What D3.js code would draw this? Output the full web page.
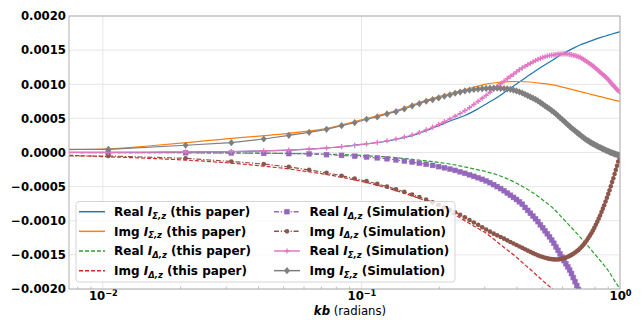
<!DOCTYPE html>
<html><head><meta charset="utf-8">
<script src="https://cdn.jsdelivr.net/npm/d3@7"></script>
<style>
body{margin:0;background:#fff}
svg{display:block}
text{font-family:"DejaVu Sans",sans-serif}
</style>
</head><body>
<svg id="c" width="643" height="320"></svg>
<script>
// ---------------- DATA (values in units of 1e-4) ----------------
const VALUE_UNIT = 1e-4;

// theory ("this paper") curves
const kbTheory = [0.0074,0.01,0.015,0.02,0.03,0.04,0.05,0.06,0.07,0.08,0.1,0.12,0.14,0.16,0.18,0.2,0.22,0.25,0.28,0.3,0.33,0.36,0.4,0.43,0.46,0.5,0.55,0.6,0.65,0.7,0.75,0.8,0.85,0.9,0.95,1.0];
const realSigmaPaper = [0.01,0.02,0.04,0.06,0.13,0.22,0.32,0.45,0.60,0.77,1.18,1.54,2.01,2.57,3.26,3.96,4.62,5.38,6.32,6.99,7.92,8.89,10.10,10.93,11.70,12.60,13.56,14.46,15.15,15.75,16.17,16.57,16.91,17.19,17.45,17.70];
const imgSigmaPaper  = [0.43,0.51,0.95,1.36,2.01,2.39,2.72,3.05,3.38,3.85,4.80,5.55,6.28,7.05,7.71,8.21,8.65,9.19,9.68,9.97,10.22,10.35,10.40,10.37,10.29,10.13,9.91,9.57,9.25,8.93,8.64,8.37,8.15,7.89,7.67,7.48];
const realDeltaPaper = [0,-0.01,-0.02,-0.03,-0.06,-0.09,-0.13,-0.18,-0.22,-0.28,-0.43,-0.60,-0.81,-1.03,-1.25,-1.47,-1.69,-2.10,-2.51,-2.76,-3.19,-3.72,-4.55,-5.21,-5.88,-6.88,-8.14,-9.63,-11.03,-12.35,-13.64,-14.91,-16.11,-17.29,-18.70,-20.00];
const imgDeltaPaper  = [-0.41,-0.60,-0.85,-1.07,-1.50,-1.92,-2.32,-2.72,-3.10,-3.48,-4.23,-4.98,-5.73,-6.46,-7.18,-8.00,-8.75,-9.95,-11.05,-11.70,-12.90,-14.05,-15.42,-16.50,-17.45,-18.70,-20.05,-21.30,null,null,null,null,null,null,null,null];

// simulation samples
const kbSim = [0.0105,0.0209,0.0314,0.0419,0.0524,0.0628,0.0733,0.0838,0.0942,0.1047,
0.1152,0.1256,0.1361,0.1466,0.1571,0.1675,0.1780,0.1885,0.1989,0.2094,
0.2199,0.2303,0.2408,0.2513,0.2618,0.2722,0.2827,0.2932,0.3036,0.3141,
0.3246,0.3350,0.3455,0.3560,0.3665,0.3769,0.3874,0.3979,0.4083,0.4188,
0.4293,0.4397,0.4502,0.4607,0.4712,0.4816,0.4921,0.5026,0.5130,0.5235,
0.5340,0.5444,0.5549,0.5654,0.5759,0.5863,0.5968,0.6073,0.6177,0.6282,
0.6387,0.6491,0.6596,0.6701,0.6806,0.6910,0.7015,0.7120,0.7224,0.7329,
0.7434,0.7538,0.7643,0.7748,0.7853,0.7957,0.8062,0.8167,0.8271,0.8376,
0.8481,0.8585,0.8690,0.8795,0.8900,0.9004,0.9109,0.9214,0.9318,0.9423,
0.9528,0.9632,0.9737,0.9842,0.9947];
const realDeltaSim = [-0.01,-0.04,-0.07,-0.12,-0.16,-0.21,-0.32,-0.42,-0.54,-0.67,
-0.79,-0.92,-1.09,-1.25,-1.41,-1.57,-1.72,-1.89,-2.07,-2.24,
-2.43,-2.62,-2.83,-3.05,-3.27,-3.49,-3.70,-3.93,-4.17,-4.42,
-4.71,-5.00,-5.29,-5.60,-5.94,-6.26,-6.58,-6.88,-7.22,-7.58,
-8.05,-8.48,-8.90,-9.31,-9.71,-10.13,-10.59,-11.03,-11.48,-11.92,
-12.36,-12.82,-13.30,-13.83,-14.33,-14.85,-15.32,-15.84,-16.30,-16.75,
-17.22,-17.74,-18.33,-18.92,-19.50,-20.09,-20.68];
const imgDeltaSim = [-0.51,-0.85,-1.32,-1.69,-2.10,-2.55,-2.98,-3.40,-3.80,-4.20,
-4.60,-5.00,-5.38,-5.77,-6.15,-6.53,-6.91,-7.28,-7.66,-8.03,
-8.40,-8.76,-9.12,-9.50,-9.88,-10.25,-10.60,-10.95,-11.28,-11.60,
-11.89,-12.14,-12.39,-12.62,-12.87,-13.11,-13.33,-13.55,-13.77,-13.97,
-14.18,-14.37,-14.56,-14.74,-14.91,-15.07,-15.21,-15.32,-15.43,-15.51,
-15.59,-15.63,-15.66,-15.67,-15.66,-15.63,-15.57,-15.48,-15.40,-15.28,
-15.15,-15.00,-14.84,-14.66,-14.47,-14.27,-14.03,-13.78,-13.50,-13.21,
-12.89,-12.54,-12.18,-11.83,-11.44,-11.04,-10.60,-10.15,-9.69,-9.22,
-8.72,-8.23,-7.73,-7.17,-6.64,-6.09,-5.53,-4.94,-4.34,-3.77,
-3.15,-2.55,-1.94,-1.32,-0.72];
const realSigmaSim = [0.03,0.07,0.14,0.24,0.36,0.50,0.66,0.85,1.05,1.25,
1.47,1.72,1.98,2.27,2.57,2.93,3.31,3.71,4.12,4.52,
4.91,5.31,5.70,6.13,6.57,7.04,7.49,7.95,8.37,8.83,
9.27,9.68,10.07,10.45,10.82,11.17,11.49,11.80,12.14,12.39,
12.64,12.86,13.08,13.28,13.48,13.64,13.78,13.92,14.03,14.14,
14.21,14.27,14.31,14.36,14.40,14.43,14.44,14.44,14.44,14.43,
14.38,14.33,14.25,14.18,14.11,14.03,13.93,13.80,13.65,13.49,
13.33,13.17,13.01,12.86,12.68,12.51,12.33,12.14,11.95,11.77,
11.60,11.41,11.25,11.07,10.88,10.67,10.47,10.25,10.03,9.82,
9.62,9.43,9.24,9.05,8.87];
const imgSigmaSim = [0.47,1.06,1.44,1.98,2.52,2.96,3.40,3.93,4.37,4.87,
5.21,5.65,5.98,6.38,6.82,7.16,7.51,7.74,7.99,8.24,
8.43,8.68,8.86,9.02,9.14,9.23,9.30,9.35,9.39,9.42,
9.43,9.43,9.41,9.38,9.33,9.24,9.15,9.02,8.87,8.72,
8.53,8.34,8.15,7.96,7.77,7.55,7.32,7.08,6.83,6.61,
6.38,6.14,5.91,5.65,5.38,5.10,4.85,4.59,4.34,4.08,
3.84,3.59,3.37,3.17,2.96,2.77,2.57,2.36,2.18,2.01,
1.83,1.69,1.55,1.42,1.29,1.17,1.06,0.94,0.84,0.73,
0.63,0.54,0.44,0.35,0.26,0.18,0.09,0.01,-0.06,-0.13,
-0.19,-0.25,-0.31,-0.37,-0.43];

const yTicks = [-0.002,-0.0015,-0.001,-0.0005,0,0.0005,0.001,0.0015,0.002];
const xTicks = [0.01,0.1,1];
const xTickExponents = ["\u22122","\u22121","0"];
const xMinorTicks = [0.008,0.009,0.02,0.03,0.04,0.05,0.06,0.07,0.08,0.09,0.2,0.3,0.4,0.5,0.6,0.7,0.8,0.9];

// ---------------- CHART ----------------
const X0=69, X1=620, Y0=16, Y1=289;
const svg = d3.select("#c");
const x = d3.scaleLog().domain([0.0074,1]).range([X0,X1]);
const y = d3.scaleLinear().domain([-0.002,0.002]).range([Y1,Y0]);

svg.append("defs").append("clipPath").attr("id","plotclip")
  .append("rect").attr("x",X0).attr("y",Y0).attr("width",X1-X0).attr("height",Y1-Y0);

// grid
const grid = svg.append("g");
grid.selectAll(".gy").data(yTicks).join("line")
  .attr("x1",X0).attr("x2",X1).attr("y1",d=>y(d)).attr("y2",d=>y(d))
  .attr("stroke","#e6e6e6").attr("stroke-width",1);
grid.selectAll(".gx").data(xTicks).join("line")
  .attr("x1",d=>x(d)).attr("x2",d=>x(d)).attr("y1",Y0).attr("y2",Y1)
  .attr("stroke","#e6e6e6").attr("stroke-width",1);

// minor ticks (inward)
svg.append("g").selectAll("line").data(xMinorTicks).join("line")
  .attr("x1",d=>x(d)).attr("x2",d=>x(d)).attr("y1",Y1).attr("y2",Y1-2.5)
  .attr("stroke","#b0b0b0").attr("stroke-width",0.8);

// axes
const yAxis = svg.append("g").attr("transform",`translate(${X0},0)`)
  .call(d3.axisLeft(y).tickValues(yTicks).tickSize(0).tickPadding(3).tickFormat(d3.format(".4f")));
yAxis.select(".domain").remove();
yAxis.selectAll("text").attr("font-size",11.7).attr("font-weight","bold").attr("fill","#000")
  .attr("font-family","DejaVu Sans");

const xAxis = svg.append("g").attr("transform",`translate(0,${Y1})`)
  .call(d3.axisBottom(x).tickValues(xTicks).tickSize(0).tickFormat(()=>""));
xAxis.select(".domain").remove();
xAxis.selectAll(".tick").each(function(d,i){
  const t = d3.select(this).append("text").attr("y",11).attr("text-anchor","middle")
    .attr("font-size",11.7).attr("font-weight","bold").attr("fill","#000").attr("font-family","DejaVu Sans");
  t.append("tspan").text("10");
  t.append("tspan").attr("font-size",8.2).attr("dy",-4.5).text(xTickExponents[i]);
});
xAxis.selectAll(".tick text").attr("dy",null);

// axis label
const xl = svg.append("text").attr("x",350).attr("y",315).attr("text-anchor","middle")
  .attr("font-size",11.7).attr("fill","#000");
xl.append("tspan").attr("font-weight","bold").attr("font-style","italic").text("kb");
xl.append("tspan").text(" (radians)");

// ---------------- SERIES ----------------
const plot = svg.append("g").attr("clip-path","url(#plotclip)");
const line = d3.line().defined(d=>d.v!==null).x(d=>x(d.k)).y(d=>y(d.v*VALUE_UNIT)).curve(d3.curveMonotoneX);

const theory = [
  {vals:realSigmaPaper, color:"#1f77b4", dash:null},
  {vals:imgSigmaPaper,  color:"#ff7f0e", dash:null},
  {vals:realDeltaPaper, color:"#2ca02c", dash:"4,2"},
  {vals:imgDeltaPaper,  color:"#d62728", dash:"4,2"},
];
theory.forEach(s=>{
  const data = kbTheory.map((k,i)=>({k, v:s.vals[i]}));
  plot.append("path").datum(data).attr("d",line).attr("fill","none")
    .attr("stroke",s.color).attr("stroke-width",1.2).attr("stroke-dasharray",s.dash);
});

function drawMarker(g, type, color, cx, cy){
  if(type==="square"){
    g.append("rect").attr("x",cx-2.5).attr("y",cy-2.5).attr("width",5).attr("height",5)
      .attr("fill",color).attr("stroke",color).attr("stroke-opacity",0.5).attr("stroke-width",0.6);
  } else if(type==="circle"){
    g.append("circle").attr("cx",cx).attr("cy",cy).attr("r",2.3).attr("fill",color);
  } else if(type==="plus"){
    g.append("path").attr("d",`M${cx-2.6},${cy}H${cx+2.6}M${cx},${cy-2.6}V${cy+2.6}`)
      .attr("stroke",color).attr("stroke-width",1.3).attr("fill","none");
  } else if(type==="diamond"){
    g.append("path").attr("d",`M${cx},${cy-3.6}L${cx+3},${cy}L${cx},${cy+3.6}L${cx-3},${cy}Z`)
      .attr("fill",color);
  }
}

const sims = [
  {vals:realDeltaSim, color:"#9467bd", dash:"5,1.8,1.2,1.8", marker:"square"},
  {vals:imgDeltaSim,  color:"#8c564b", dash:"5,1.8,1.2,1.8", marker:"circle"},
  {vals:realSigmaSim, color:"#e377c2", dash:null, marker:"plus"},
  {vals:imgSigmaSim,  color:"#7f7f7f", dash:null, marker:"diamond"},
];
sims.forEach(s=>{
  const pts = s.vals.map((v,i)=>({k:kbSim[i], v}));
  const data = [{k:x.domain()[0], v:s.vals[0]}].concat(pts);
  plot.append("path").datum(data).attr("d",line.curve(d3.curveLinear)).attr("fill","none")
    .attr("stroke",s.color).attr("stroke-width",1.2).attr("stroke-dasharray",s.dash);
  const mg = plot.append("g");
  pts.forEach(p=>drawMarker(mg, s.marker, s.color, x(p.k), y(p.v*VALUE_UNIT)));
});

// ---------------- LEGEND ----------------
const leg = svg.append("g");
leg.append("rect").attr("x",76).attr("y",201.5).attr("width",379).attr("height",80.5).attr("rx",3)
  .attr("fill","#fff").attr("fill-opacity",0.8).attr("stroke","#d0d0d0").attr("stroke-width",0.9);

const legendItems = [
  {pre:"Real ", sub:"\u03a3,z", post:" (this paper)", color:"#1f77b4", dash:null, marker:null},
  {pre:"Img ",  sub:"\u03a3,z", post:" (this paper)", color:"#ff7f0e", dash:null, marker:null},
  {pre:"Real ", sub:"\u0394,z", post:" (this paper)", color:"#2ca02c", dash:"4,2", marker:null},
  {pre:"Img ",  sub:"\u0394,z", post:" (this paper)", color:"#d62728", dash:"4,2", marker:null},
  {pre:"Real ", sub:"\u0394,z", post:" (Simulation)", color:"#9467bd", dash:"5,1.8,1.2,1.8", marker:"square"},
  {pre:"Img ",  sub:"\u0394,z", post:" (Simulation)", color:"#8c564b", dash:"5,1.8,1.2,1.8", marker:"circle"},
  {pre:"Real ", sub:"\u03a3,z", post:" (Simulation)", color:"#e377c2", dash:null, marker:"plus"},
  {pre:"Img ",  sub:"\u03a3,z", post:" (Simulation)", color:"#7f7f7f", dash:null, marker:"diamond"},
];
legendItems.forEach((it,i)=>{
  const col = Math.floor(i/4), row = i%4;
  const hx = col===0 ? 79 : 274, tx = col===0 ? 114 : 309.5;
  const cy = 211.7 + row*19.65;
  leg.append("line").attr("x1",hx).attr("x2",hx+26).attr("y1",cy).attr("y2",cy)
    .attr("stroke",it.color).attr("stroke-width",1.5).attr("stroke-dasharray",it.dash);
  if(it.marker) drawMarker(leg, it.marker, it.color, hx+13, cy);
  const fs = 12;
  const t = leg.append("text").attr("x",tx).attr("y",cy+4.3).attr("font-size",fs)
    .attr("font-weight","bold").attr("fill","#000");
  t.append("tspan").text(it.pre);
  t.append("tspan").attr("font-style","italic").text("I");
  t.append("tspan").attr("font-style","italic").attr("font-size",fs*0.7).attr("dy",2.6).text(it.sub);
  t.append("tspan").attr("dy",-2.6).text(it.post);
});

// spines
svg.append("rect").attr("x",X0).attr("y",Y0).attr("width",X1-X0).attr("height",Y1-Y0)
  .attr("fill","none").attr("stroke","#b0b0b0").attr("stroke-width",1);
</script>
</body></html>
